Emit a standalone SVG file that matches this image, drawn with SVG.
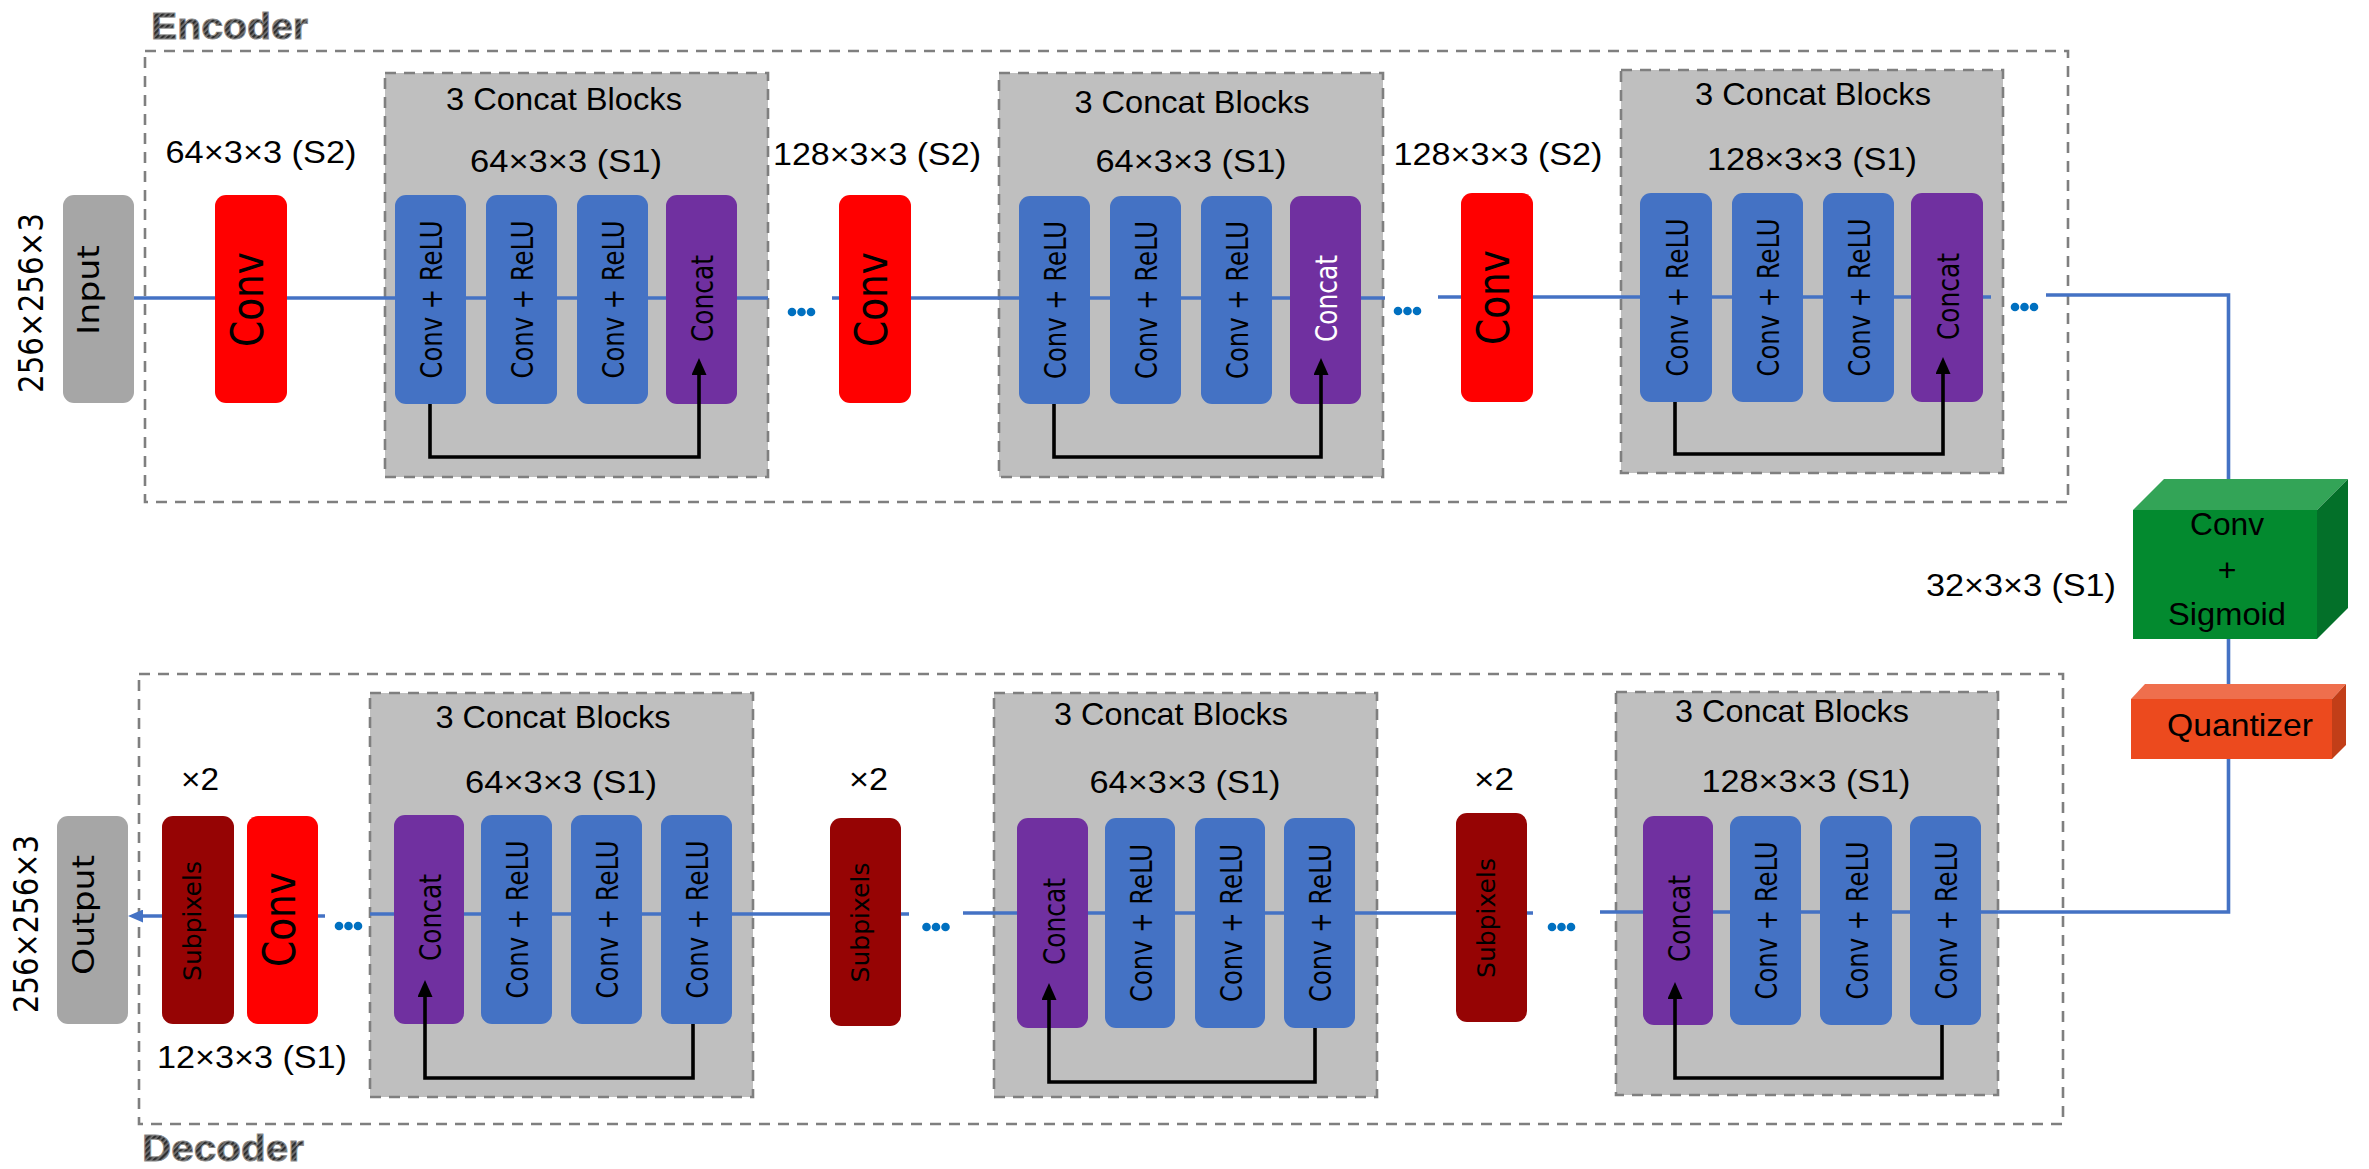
<svg xmlns="http://www.w3.org/2000/svg" width="2369" height="1169" viewBox="0 0 2369 1169">
  <defs>
    <style>
      .frame { fill: none; stroke: #7f7f7f; stroke-width: 2.6; stroke-dasharray: 11 8; }
      .block { fill: #bfbfbf; stroke: #7f7f7f; stroke-width: 2.6; stroke-dasharray: 11 8; }
      .io { fill: #a6a6a6; }
      .conv { fill: #ff0000; }
      .relu { fill: #4472c4; }
      .cat { fill: #7030a0; }
      .sub { fill: #960404; }
      .flow { fill: none; stroke: #4472c4; stroke-width: 3.6; }
      .skip { fill: none; stroke: #000; stroke-width: 3.6; }
      .dot { fill: #0070c0; }
      .lbl { font-family: "Liberation Sans", Arial, sans-serif; font-size: 32px; fill: #000; text-anchor: middle; }
      .vt { font-family: "DejaVu Sans", Verdana, sans-serif; fill: #000; text-anchor: middle; }
      .v31 { font-size: 31px; }
      .v25 { font-size: 25px; }
      .v30 { font-size: 30px; }
      .v34 { font-size: 34px; }
      .v45 { font-size: 45px; }
      .white { fill: #fff; }
      .title { font-family: "Liberation Sans", Arial, sans-serif; font-weight: bold; font-size: 37px; fill: url(#weave); stroke: #8c8c8c; stroke-width: 0.9; }
    </style>
    <pattern id="weave" width="4" height="4" patternUnits="userSpaceOnUse" patternTransform="rotate(45)">
      <rect width="4" height="4" fill="#757575"/>
      <rect width="2.3" height="4" fill="#2e2e2e"/>
    </pattern>
    <marker id="headBlack" viewBox="0 0 17 15" refX="7" refY="7.5" markerWidth="17" markerHeight="15" markerUnits="userSpaceOnUse" orient="auto">
      <path d="M0 0 L17 7.5 L0 15 Z" fill="#000"/>
    </marker>
    <marker id="headBlue" viewBox="0 0 15 13" refX="5" refY="6.5" markerWidth="15" markerHeight="13" markerUnits="userSpaceOnUse" orient="auto">
      <path d="M0 0 L15 6.5 L0 13 Z" fill="#4472c4"/>
    </marker>
  </defs>

  <rect width="2369" height="1169" fill="#fff"/>

  <!-- encoder / decoder frames -->
  <g id="encoder-frame">
    <rect class="frame" x="145" y="51" width="1923" height="451"/>
    <text class="title" x="151" y="39" textLength="157" lengthAdjust="spacingAndGlyphs">Encoder</text>
  </g>
  <g id="decoder-frame">
    <rect class="frame" x="139" y="674" width="1924" height="450"/>
    <text class="title" x="142" y="1161" textLength="162" lengthAdjust="spacingAndGlyphs">Decoder</text>
  </g>

  <!-- concat block containers -->
  <g id="enc-block1-frame">
    <rect class="block" x="385" y="73" width="383" height="404"/>
    <text class="lbl" x="564" y="110" textLength="236" lengthAdjust="spacingAndGlyphs">3 Concat Blocks</text>
    <text class="lbl" x="566" y="172" textLength="192" lengthAdjust="spacingAndGlyphs">64×3×3 (S1)</text>
  </g>
  <g id="enc-block2-frame">
    <rect class="block" x="999" y="73" width="384" height="404"/>
    <text class="lbl" x="1192" y="113" textLength="235" lengthAdjust="spacingAndGlyphs">3 Concat Blocks</text>
    <text class="lbl" x="1191" y="172" textLength="191" lengthAdjust="spacingAndGlyphs">64×3×3 (S1)</text>
  </g>
  <g id="enc-block3-frame">
    <rect class="block" x="1621" y="70" width="382" height="403"/>
    <text class="lbl" x="1813" y="105" textLength="236" lengthAdjust="spacingAndGlyphs">3 Concat Blocks</text>
    <text class="lbl" x="1812" y="170" textLength="210" lengthAdjust="spacingAndGlyphs">128×3×3 (S1)</text>
  </g>
  <g id="dec-block1-frame">
    <rect class="block" x="370" y="693" width="383" height="404"/>
    <text class="lbl" x="553" y="728" textLength="235" lengthAdjust="spacingAndGlyphs">3 Concat Blocks</text>
    <text class="lbl" x="561" y="793" textLength="192" lengthAdjust="spacingAndGlyphs">64×3×3 (S1)</text>
  </g>
  <g id="dec-block2-frame">
    <rect class="block" x="994" y="693" width="383" height="404"/>
    <text class="lbl" x="1171" y="725" textLength="234" lengthAdjust="spacingAndGlyphs">3 Concat Blocks</text>
    <text class="lbl" x="1185" y="793" textLength="191" lengthAdjust="spacingAndGlyphs">64×3×3 (S1)</text>
  </g>
  <g id="dec-block3-frame">
    <rect class="block" x="1616" y="692" width="382" height="403"/>
    <text class="lbl" x="1792" y="722" textLength="234" lengthAdjust="spacingAndGlyphs">3 Concat Blocks</text>
    <text class="lbl" x="1806" y="792" textLength="209" lengthAdjust="spacingAndGlyphs">128×3×3 (S1)</text>
  </g>

  <!-- main data flow -->
  <g id="connectors">
    <path class="flow" d="M134 298 H768"/>
    <path class="flow" d="M832 298 H1385"/>
    <path class="flow" d="M1438 297 H1991"/>
    <path class="flow" d="M2046 295 H2228.5 V495"/>
    <path class="flow" d="M2228.5 630 V690"/>
    <path class="flow" d="M2228.5 750 V912 H1600"/>
    <path class="flow" d="M1533 913 H963"/>
    <path class="flow" d="M909 914 H370"/>
    <path class="flow" d="M325 916 H138" marker-end="url(#headBlue)"/>
    <circle class="dot" cx="792" cy="312" r="4.3"/><circle class="dot" cx="801.5" cy="312" r="4.3"/><circle class="dot" cx="811" cy="312" r="4.3"/>
    <circle class="dot" cx="1398" cy="311" r="4.3"/><circle class="dot" cx="1407.5" cy="311" r="4.3"/><circle class="dot" cx="1417" cy="311" r="4.3"/>
    <circle class="dot" cx="2015" cy="307" r="4.3"/><circle class="dot" cx="2024.5" cy="307" r="4.3"/><circle class="dot" cx="2034" cy="307" r="4.3"/>
    <circle class="dot" cx="339" cy="926" r="4.3"/><circle class="dot" cx="348.5" cy="926" r="4.3"/><circle class="dot" cx="358" cy="926" r="4.3"/>
    <circle class="dot" cx="926.5" cy="927" r="4.3"/><circle class="dot" cx="936" cy="927" r="4.3"/><circle class="dot" cx="945.5" cy="927" r="4.3"/>
    <circle class="dot" cx="1552" cy="927" r="4.3"/><circle class="dot" cx="1561.5" cy="927" r="4.3"/><circle class="dot" cx="1571" cy="927" r="4.3"/>
  </g>

  <!-- encoder nodes -->
  <g id="input">
    <rect class="io" x="63" y="195" width="71" height="208" rx="11"/>
    <text class="vt v30" transform="translate(99,290) rotate(-90)" textLength="90" lengthAdjust="spacingAndGlyphs">Input</text>
    <text class="vt v34" transform="translate(43,303) rotate(-90)" textLength="180" lengthAdjust="spacingAndGlyphs">256×256×3</text>
  </g>
  <g id="enc-conv1">
    <rect class="conv" x="215" y="195" width="72" height="208" rx="11"/>
    <text class="vt v45" transform="translate(263,299.5) rotate(-90)" textLength="95" lengthAdjust="spacingAndGlyphs">Conv</text>
    <text class="lbl" x="261" y="163" textLength="191" lengthAdjust="spacingAndGlyphs">64×3×3 (S2)</text>
  </g>
  <g id="enc-block1">
    <rect class="relu" x="395" y="195" width="71" height="209" rx="11"/>
    <rect class="relu" x="486" y="195" width="71" height="209" rx="11"/>
    <rect class="relu" x="577" y="195" width="71" height="209" rx="11"/>
    <rect class="cat" x="666" y="195" width="71" height="209" rx="11"/>
    <text class="vt v31" transform="translate(442,299.5) rotate(-90)" textLength="158" lengthAdjust="spacingAndGlyphs">Conv + ReLU</text>
    <text class="vt v31" transform="translate(533,299.5) rotate(-90)" textLength="158" lengthAdjust="spacingAndGlyphs">Conv + ReLU</text>
    <text class="vt v31" transform="translate(624,299.5) rotate(-90)" textLength="158" lengthAdjust="spacingAndGlyphs">Conv + ReLU</text>
    <text class="vt v31" transform="translate(713,298.5) rotate(-90)" textLength="87" lengthAdjust="spacingAndGlyphs">Concat</text>
  </g>
  <g id="enc-conv2">
    <rect class="conv" x="839" y="195" width="72" height="208" rx="11"/>
    <text class="vt v45" transform="translate(887,299.5) rotate(-90)" textLength="95" lengthAdjust="spacingAndGlyphs">Conv</text>
    <text class="lbl" x="877" y="165" textLength="208" lengthAdjust="spacingAndGlyphs">128×3×3 (S2)</text>
  </g>
  <g id="enc-block2">
    <rect class="relu" x="1019" y="196" width="71" height="208" rx="11"/>
    <rect class="relu" x="1110" y="196" width="71" height="208" rx="11"/>
    <rect class="relu" x="1201" y="196" width="71" height="208" rx="11"/>
    <rect class="cat" x="1290" y="196" width="71" height="208" rx="11"/>
    <text class="vt v31" transform="translate(1066,300) rotate(-90)" textLength="158" lengthAdjust="spacingAndGlyphs">Conv + ReLU</text>
    <text class="vt v31" transform="translate(1157,300) rotate(-90)" textLength="158" lengthAdjust="spacingAndGlyphs">Conv + ReLU</text>
    <text class="vt v31" transform="translate(1248,300) rotate(-90)" textLength="158" lengthAdjust="spacingAndGlyphs">Conv + ReLU</text>
    <text class="vt v31 white" transform="translate(1337,298.5) rotate(-90)" textLength="87" lengthAdjust="spacingAndGlyphs">Concat</text>
  </g>
  <g id="enc-conv3">
    <rect class="conv" x="1461" y="193" width="72" height="209" rx="11"/>
    <text class="vt v45" transform="translate(1509,297.5) rotate(-90)" textLength="95" lengthAdjust="spacingAndGlyphs">Conv</text>
    <text class="lbl" x="1498" y="165" textLength="209" lengthAdjust="spacingAndGlyphs">128×3×3 (S2)</text>
  </g>
  <g id="enc-block3">
    <rect class="relu" x="1640" y="193" width="72" height="209" rx="11"/>
    <rect class="relu" x="1732" y="193" width="71" height="209" rx="11"/>
    <rect class="relu" x="1823" y="193" width="71" height="209" rx="11"/>
    <rect class="cat" x="1911" y="193" width="72" height="209" rx="11"/>
    <text class="vt v31" transform="translate(1687.5,297.5) rotate(-90)" textLength="158" lengthAdjust="spacingAndGlyphs">Conv + ReLU</text>
    <text class="vt v31" transform="translate(1779,297.5) rotate(-90)" textLength="158" lengthAdjust="spacingAndGlyphs">Conv + ReLU</text>
    <text class="vt v31" transform="translate(1870,297.5) rotate(-90)" textLength="158" lengthAdjust="spacingAndGlyphs">Conv + ReLU</text>
    <text class="vt v31" transform="translate(1958.5,296.5) rotate(-90)" textLength="87" lengthAdjust="spacingAndGlyphs">Concat</text>
  </g>

  <!-- bottleneck -->
  <g id="conv-sigmoid">
    <polygon points="2133,510 2164,479 2348,479 2317,510" fill="#33a457"/>
    <polygon points="2317,510 2348,479 2348,608 2317,639" fill="#037029"/>
    <rect x="2133" y="510" width="184" height="129" fill="#038a2f"/>
    <text class="lbl" x="2227" y="535" textLength="74" lengthAdjust="spacingAndGlyphs">Conv</text>
    <text class="lbl" x="2227" y="581">+</text>
    <text class="lbl" x="2227" y="625" textLength="118" lengthAdjust="spacingAndGlyphs">Sigmoid</text>
    <text class="lbl" x="2021" y="596" textLength="190" lengthAdjust="spacingAndGlyphs">32×3×3 (S1)</text>
  </g>
  <g id="quantizer">
    <polygon points="2131,699 2145,684 2346,684 2332,699" fill="#ef6f4d"/>
    <polygon points="2332,699 2346,684 2346,745 2332,759" fill="#c23e18"/>
    <rect x="2131" y="699" width="201" height="60" fill="#ec4a1e"/>
    <text class="lbl" x="2240" y="736" textLength="146" lengthAdjust="spacingAndGlyphs">Quantizer</text>
  </g>

  <!-- decoder nodes -->
  <g id="dec-block3">
    <rect class="cat" x="1643" y="816" width="70" height="209" rx="11"/>
    <rect class="relu" x="1730" y="816" width="71" height="209" rx="11"/>
    <rect class="relu" x="1820" y="816" width="72" height="209" rx="11"/>
    <rect class="relu" x="1910" y="816" width="71" height="209" rx="11"/>
    <text class="vt v31" transform="translate(1690,918.5) rotate(-90)" textLength="87" lengthAdjust="spacingAndGlyphs">Concat</text>
    <text class="vt v31" transform="translate(1777,920.5) rotate(-90)" textLength="158" lengthAdjust="spacingAndGlyphs">Conv + ReLU</text>
    <text class="vt v31" transform="translate(1867.5,920.5) rotate(-90)" textLength="158" lengthAdjust="spacingAndGlyphs">Conv + ReLU</text>
    <text class="vt v31" transform="translate(1957,920.5) rotate(-90)" textLength="158" lengthAdjust="spacingAndGlyphs">Conv + ReLU</text>
  </g>
  <g id="dec-subpixels2">
    <rect class="sub" x="1456" y="813" width="71" height="209" rx="11"/>
    <text class="vt v25" transform="translate(1494.5,918) rotate(-90)" textLength="120" lengthAdjust="spacingAndGlyphs">Subpixels</text>
    <text class="lbl" x="1494" y="790" textLength="40" lengthAdjust="spacingAndGlyphs">×2</text>
  </g>
  <g id="dec-block2">
    <rect class="cat" x="1017" y="818" width="71" height="210" rx="11"/>
    <rect class="relu" x="1105" y="818" width="70" height="210" rx="11"/>
    <rect class="relu" x="1195" y="818" width="70" height="210" rx="11"/>
    <rect class="relu" x="1284" y="818" width="71" height="210" rx="11"/>
    <text class="vt v31" transform="translate(1064.5,921.5) rotate(-90)" textLength="87" lengthAdjust="spacingAndGlyphs">Concat</text>
    <text class="vt v31" transform="translate(1151.5,923) rotate(-90)" textLength="158" lengthAdjust="spacingAndGlyphs">Conv + ReLU</text>
    <text class="vt v31" transform="translate(1241.5,923) rotate(-90)" textLength="158" lengthAdjust="spacingAndGlyphs">Conv + ReLU</text>
    <text class="vt v31" transform="translate(1331,923) rotate(-90)" textLength="158" lengthAdjust="spacingAndGlyphs">Conv + ReLU</text>
  </g>
  <g id="dec-subpixels1">
    <rect class="sub" x="830" y="818" width="71" height="208" rx="11"/>
    <text class="vt v25" transform="translate(868.5,922.5) rotate(-90)" textLength="120" lengthAdjust="spacingAndGlyphs">Subpixels</text>
    <text class="lbl" x="868.5" y="790" textLength="39" lengthAdjust="spacingAndGlyphs">×2</text>
  </g>
  <g id="dec-block1">
    <rect class="cat" x="394" y="815" width="70" height="209" rx="11"/>
    <rect class="relu" x="481" y="815" width="71" height="209" rx="11"/>
    <rect class="relu" x="571" y="815" width="71" height="209" rx="11"/>
    <rect class="relu" x="661" y="815" width="71" height="209" rx="11"/>
    <text class="vt v31" transform="translate(441,917.5) rotate(-90)" textLength="87" lengthAdjust="spacingAndGlyphs">Concat</text>
    <text class="vt v31" transform="translate(528,919.5) rotate(-90)" textLength="158" lengthAdjust="spacingAndGlyphs">Conv + ReLU</text>
    <text class="vt v31" transform="translate(618,919.5) rotate(-90)" textLength="158" lengthAdjust="spacingAndGlyphs">Conv + ReLU</text>
    <text class="vt v31" transform="translate(708,919.5) rotate(-90)" textLength="158" lengthAdjust="spacingAndGlyphs">Conv + ReLU</text>
  </g>
  <g id="dec-conv">
    <rect class="conv" x="247" y="816" width="71" height="208" rx="11"/>
    <text class="vt v45" transform="translate(295,919.5) rotate(-90)" textLength="95" lengthAdjust="spacingAndGlyphs">Conv</text>
    <text class="lbl" x="252" y="1068" textLength="190" lengthAdjust="spacingAndGlyphs">12×3×3 (S1)</text>
  </g>
  <g id="dec-subpixels0">
    <rect class="sub" x="162" y="816" width="72" height="208" rx="11"/>
    <text class="vt v25" transform="translate(201,921) rotate(-90)" textLength="120" lengthAdjust="spacingAndGlyphs">Subpixels</text>
    <text class="lbl" x="200" y="790" textLength="38" lengthAdjust="spacingAndGlyphs">×2</text>
  </g>
  <g id="output">
    <rect class="io" x="57" y="816" width="71" height="208" rx="11"/>
    <text class="vt v30" transform="translate(94,915) rotate(-90)" textLength="120" lengthAdjust="spacingAndGlyphs">Output</text>
    <text class="vt v34" transform="translate(38,924) rotate(-90)" textLength="178" lengthAdjust="spacingAndGlyphs">256×256×3</text>
  </g>

  <!-- skip connections inside the concat blocks -->
  <g id="skip-connectors">
    <path class="skip" d="M430 404 V457 H699 V368" marker-end="url(#headBlack)"/>
    <path class="skip" d="M1054 404 V457 H1321 V368" marker-end="url(#headBlack)"/>
    <path class="skip" d="M1675 402 V454 H1943 V367" marker-end="url(#headBlack)"/>
    <path class="skip" d="M693 1024 V1078 H425 V990" marker-end="url(#headBlack)"/>
    <path class="skip" d="M1315 1028 V1082 H1049 V993" marker-end="url(#headBlack)"/>
    <path class="skip" d="M1942 1025 V1078 H1675 V992" marker-end="url(#headBlack)"/>
  </g>
</svg>
